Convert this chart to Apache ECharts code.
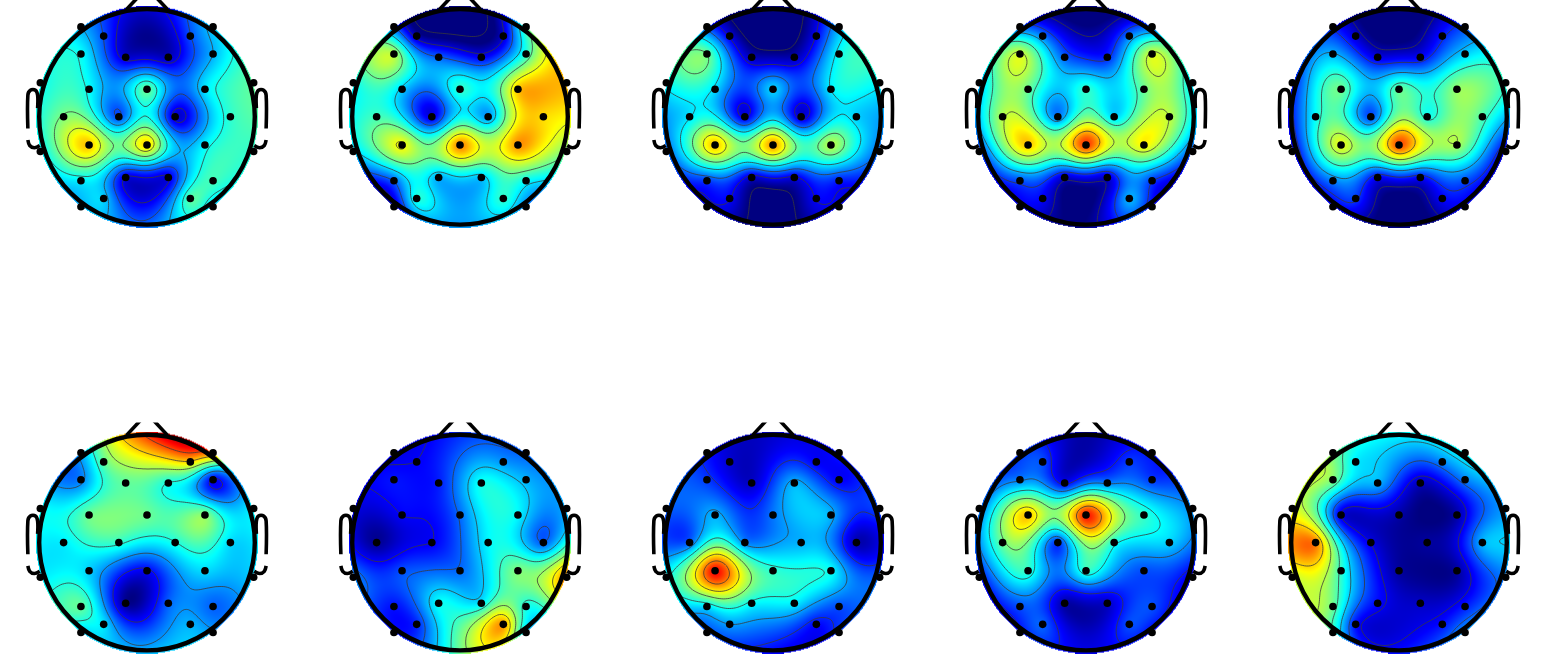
<!DOCTYPE html>
<html><head><meta charset="utf-8">
<style>html,body{margin:0;padding:0;background:#fff}#c{width:1548px;height:655px}</style>
<script src="https://cdn.jsdelivr.net/npm/echarts@6/dist/echarts.min.js"></script>
</head><body><div id="c"></div>
<script>
// Electrode positions, in head radii (x right, y towards the nose).
var ELECTRODE_X = [-.61,.61,-.40,.40,-.61,-.197,.197,.61,-.985,-.535,0,.535,.985,-.77,-.26,.26,.77,-.535,0,.535,-.985,.985,-.61,-.197,.197,.61,-.40,.40,-.61,.61];
var ELECTRODE_Y = [.83,.83,.745,.745,.58,.55,.55,.58,.315,.255,.255,.255,.315,0,0,0,0,-.26,-.26,-.26,-.32,-.32,-.59,-.56,-.56,-.59,-.755,-.755,-.83,-.83];
// Value at each electrode (0 = navy ... 1 = dark red).
var MAP_1  = [.30,.33,.20,.20,.38,.08,.06,.30,.38,.38,.47,.35,.47,.50,.20,.08,.42,.68,.66,.37,.36,.42,.36,.10,.10,.44,.33,.46,.30,.33];
var MAP_2  = [.22,.45,.05,.08,.55,.22,.12,.42,.38,.33,.42,.68,.70,.44,.10,.28,.66,.62,.74,.73,.33,.50,.22,.30,.32,.38,.40,.42,.06,.25];
var MAP_3  = [.20,.30,.10,.12,.48,.06,.05,.38,.38,.34,.33,.36,.37,.35,.10,.08,.33,.68,.72,.55,.22,.23,.18,.08,.10,.15,.12,.12,.10,.10];
var MAP_4  = [.22,.22,.25,.25,.58,.22,.16,.58,.30,.48,.42,.48,.35,.55,.25,.34,.56,.68,.82,.63,.17,.20,.20,.08,.08,.18,.12,.30,.10,.12];
var MAP_5  = [.15,.20,.08,.15,.30,.10,.12,.33,.14,.48,.47,.52,.42,.38,.20,.40,.45,.60,.80,.54,.08,.10,.25,.12,.13,.20,.18,.12,.10,.10];
var MAP_6  = [.30,.75,.47,.66,.25,.47,.40,.12,.38,.48,.48,.51,.37,.36,.42,.40,.34,.33,.12,.34,.36,.33,.47,.02,.22,.22,.35,.30,.33,.28];
var MAP_7  = [.10,.22,.12,.27,.14,.15,.39,.30,.10,.12,.23,.37,.30,.02,.12,.37,.22,.20,.23,.50,.26,.75,.14,.38,.36,.40,.16,.72,.14,.33];
var MAP_8  = [.14,.15,.08,.12,.18,.07,.30,.12,.22,.30,.24,.30,.20,.22,.26,.30,.05,.87,.42,.38,.38,.22,.35,.38,.36,.20,.28,.13,.20,.18];
var MAP_9  = [.18,.14,.20,.18,.25,.12,.25,.18,.22,.68,.85,.42,.26,.48,.18,.40,.33,.42,.42,.20,.13,.10,.20,.04,.07,.20,.22,.20,.13,.12];
var MAP_10 = [.50,.38,.36,.26,.50,.30,.06,.25,.60,.10,.04,.04,.28,.75,.10,.03,.30,.42,.03,.03,.57,.25,.48,.13,.07,.15,.14,.14,.42,.28];
var MAPS = [MAP_1,MAP_2,MAP_3,MAP_4,MAP_5,MAP_6,MAP_7,MAP_8,MAP_9,MAP_10];

var CENTRES_X = [147,460,773,1086,1399];
var CENTRES_Y = [116.8,542.6];
var PX_PER_RADIUS = 108.3, AXIS_X = 1.154, AXIS_Y = 1.108, SURFACE_R = 1.025;
var EAR_UPPER = [[-1.01,.08],[-1.01,.2],[-1.03,.246],[-1.077,.246],[-1.10,.2],[-1.10,-.108]];
var EAR_LOWER = [[-1.10,-.215],[-1.083,-.265],[-1.04,-.286],[-.99,-.265]];
var NOSE = [[-.19,.99],[-.05,1.14]];
var JET = [[0,0,0,128],[.125,0,0,255],[.375,0,255,255],[.625,255,255,0],[.875,255,0,0],[1,128,0,0]];

function jet(v){
  v=Math.max(0,Math.min(1,v));
  for(var i=1;i<JET.length;i++) if(v<=JET[i][0]){
    var a=JET[i-1],b=JET[i],t=(v-a[0])/(b[0]-a[0]);
    return [a[1]+(b[1]-a[1])*t,a[2]+(b[2]-a[2])*t,a[3]+(b[3]-a[3])*t];
  }
  return JET[JET.length-1].slice(1);
}
function kernel(dx,dy){var d2=(dx*dx+dy*dy)*.25; return d2<1e-12?0:d2*(.5*Math.log(d2)-1);}
// Topographic surface through the electrode values, as a scalp map is drawn.
function surfaceOf(vals){
  var n=vals.length,A=[],i,j,k;
  for(i=0;i<n;i++){A[i]=[];for(j=0;j<n;j++)A[i][j]=kernel(ELECTRODE_X[i]-ELECTRODE_X[j],ELECTRODE_Y[i]-ELECTRODE_Y[j]);A[i][n]=vals[i];}
  for(k=0;k<n;k++){
    var p=k;for(i=k+1;i<n;i++)if(Math.abs(A[i][k])>Math.abs(A[p][k]))p=i;
    var t=A[k];A[k]=A[p];A[p]=t;
    for(i=k+1;i<n;i++){var f=A[i][k]/A[k][k];for(j=k;j<=n;j++)A[i][j]-=f*A[k][j];}
  }
  var w=[];
  for(i=n-1;i>=0;i--){var s=A[i][n];for(j=i+1;j<n;j++)s-=A[i][j]*w[j];w[i]=s/A[i][i];}
  return function(x,y){var z=0;for(var m=0;m<n;m++)z+=w[m]*kernel(x-ELECTRODE_X[m],y-ELECTRODE_Y[m]);return z;};
}
function paint(fn){
  var size=Math.round(2*SURFACE_R*PX_PER_RADIUS),cv=document.createElement('canvas');
  cv.width=cv.height=size;
  var ctx=cv.getContext('2d'),img=ctx.createImageData(size,size);
  for(var r=0;r<size;r++)for(var c=0;c<size;c++){
    var x=((c+.5)/size*2-1)*SURFACE_R,y=(1-(r+.5)/size*2)*SURFACE_R;
    if(x*x+y*y>SURFACE_R*SURFACE_R)continue;
    var col=jet(fn(x,y)),o=(r*size+c)*4;
    img.data[o]=col[0];img.data[o+1]=col[1];img.data[o+2]=col[2];img.data[o+3]=255;
  }
  ctx.putImageData(img,0,0);
  return cv;
}
function contours(fn,api){
  var N=110,h=2/N,Z=[],lo=1e9,hi=-1e9,i,j;
  for(j=0;j<=N;j++){Z[j]=[];for(i=0;i<=N;i++){
    var x=-1+i*h,y=-1+j*h;
    if(x*x+y*y<=1){var v=fn(x,y);Z[j][i]=v;if(v<lo)lo=v;if(v>hi)hi=v;}else Z[j][i]=null;
  }}
  var d='';
  function pt(a){var p=api.coord(a);return p[0].toFixed(1)+' '+p[1].toFixed(1);}
  for(var k=1;k<=6;k++){
    var L=lo+(hi-lo)*k/7;
    for(j=0;j<N;j++)for(i=0;i<N;i++){
      var a=Z[j][i],b=Z[j][i+1],c=Z[j+1][i+1],e=Z[j+1][i];
      if(a===null||b===null||c===null||e===null)continue;
      var x0=-1+i*h,y0=-1+j*h,q=[];
      if((a<L)!==(b<L))q.push([x0+h*(L-a)/(b-a),y0]);
      if((b<L)!==(c<L))q.push([x0+h,y0+h*(L-b)/(c-b)]);
      if((e<L)!==(c<L))q.push([x0+h*(L-e)/(c-e),y0+h]);
      if((a<L)!==(e<L))q.push([x0,y0+h*(L-a)/(e-a)]);
      if(q.length>=2)d+='M'+pt(q[0])+'L'+pt(q[1]);
      if(q.length===4)d+='M'+pt(q[2])+'L'+pt(q[3]);
    }
  }
  return d;
}
function pts(list,api,flip){return list.map(function(p){return api.coord([flip?-p[0]:p[0],p[1]]);});}

var grids=[],xAxes=[],yAxes=[],series=[];
MAPS.forEach(function(vals,idx){
  var cx=CENTRES_X[idx%5],cy=CENTRES_Y[idx<5?0:1];
  grids.push({left:cx-AXIS_X*PX_PER_RADIUS,top:cy-AXIS_Y*PX_PER_RADIUS,width:2*AXIS_X*PX_PER_RADIUS,height:2*AXIS_Y*PX_PER_RADIUS,show:false,outerBoundsMode:'none'});
  xAxes.push({gridIndex:idx,type:'value',min:-AXIS_X,max:AXIS_X,show:false});
  yAxes.push({gridIndex:idx,type:'value',min:-AXIS_Y,max:AXIS_Y,show:false});
  var fn=surfaceOf(vals);
  series.push({type:'custom',coordinateSystem:'cartesian2d',xAxisIndex:idx,yAxisIndex:idx,clip:true,silent:true,z:1,
    data:[[0,0]],
    renderItem:function(params,api){
      var c0=api.coord([0,0]),size=2*SURFACE_R*PX_PER_RADIUS;
      var kids=[{type:'image',style:{image:paint(fn),x:c0[0]-size/2,y:c0[1]-size/2,width:size,height:size}},
        {type:'path',shape:{pathData:contours(fn,api)},style:{fill:'none',stroke:'#3a3a3a',lineWidth:.8}},
        {type:'circle',shape:{cx:c0[0],cy:c0[1],r:PX_PER_RADIUS-.5},style:{fill:'none',stroke:'#000',lineWidth:4.4}}];
      [false,true].forEach(function(flip){
        [EAR_UPPER,EAR_LOWER].forEach(function(e){kids.push({type:'polyline',shape:{points:pts(e,api,flip),smooth:.35},style:{fill:'none',stroke:'#000',lineWidth:3.6}});});
        kids.push({type:'polyline',shape:{points:pts(NOSE,api,flip)},style:{fill:'none',stroke:'#000',lineWidth:3.6}});
      });
      return {type:'group',children:kids};
    }});
  series.push({type:'scatter',xAxisIndex:idx,yAxisIndex:idx,symbol:'circle',symbolSize:7.6,silent:true,z:3,clip:false,
    itemStyle:{color:'#000',opacity:1},
    data:vals.map(function(v,i){return [ELECTRODE_X[i],ELECTRODE_Y[i],v];})});
});
var chart=echarts.init(document.getElementById('c'),null,{renderer:'canvas'});
chart.setOption({animation:false,backgroundColor:'#fff',tooltip:{show:false},grid:grids,xAxis:xAxes,yAxis:yAxes,series:series});
</script></body></html>
